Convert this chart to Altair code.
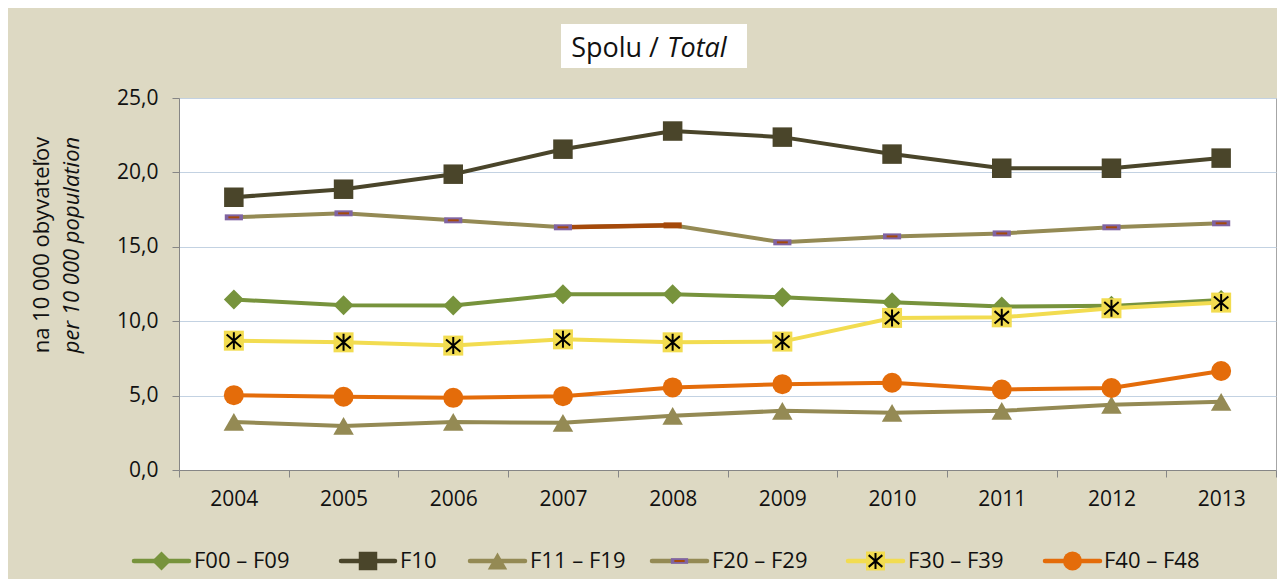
import altair as alt
import pandas as pd

# ---------------- data ----------------
YEARS = ["2004", "2005", "2006", "2007", "2008", "2009", "2010", "2011", "2012", "2013"]
SERIES = ["F00 – F09", "F10", "F11 – F19", "F20 – F29", "F30 – F39", "F40 – F48"]

F00_F09 = [11.46, 11.07, 11.05, 11.81, 11.81, 11.61, 11.28, 10.98, 11.03, 11.43]
F10 = [18.33, 18.87, 19.88, 21.56, 22.78, 22.37, 21.23, 20.28, 20.28, 20.96]
F11_F19 = [3.23, 2.96, 3.23, 3.17, 3.64, 3.98, 3.84, 3.98, 4.38, 4.58]
F20_F29 = [16.98, 17.25, 16.78, 16.31, 16.44, 15.30, 15.70, 15.90, 16.31, 16.58]
F30_F39 = [8.69, 8.58, 8.36, 8.78, 8.58, 8.63, 10.22, 10.26, 10.87, 11.25]
F40_F48 = [5.03, 4.92, 4.85, 4.96, 5.55, 5.77, 5.86, 5.41, 5.51, 6.65]

VALUES = [F00_F09, F10, F11_F19, F20_F29, F30_F39, F40_F48]
Y_TICKS = [0, 5, 10, 15, 20, 25]

# F20 – F29 has a differently coloured segment / marker in the original
F20_ACCENT_SEGMENT = ["2007", "2008"]
F20_ACCENT_MARKER = ["2008"]

TITLE_A = "Spolu /"
TITLE_B = "Total"
YTITLE_A = "na 10 000 obyvateľov"
YTITLE_B = "per 10 000 population"

# ---------------- styles ----------------
FONT = "Open Sans"
BG = "#DDD9C3"
AXIS_GRAY = "#868686"
GRID = "#C3D2E2"

RECT_PATH = "M-1,-0.33H1V0.33H-1Z"
DASH_PATH = "M-0.6,0H0.6"
AST_PATH = "M0,-0.85L0,0.85M-0.72,-0.62L0.72,0.62M-0.72,0.62L0.72,-0.62"

STYLES = {
    "F00 – F09": dict(line="#77933C", layers=[dict(shape="diamond", fill="#77933C", size=400)]),
    "F10": dict(line="#4A452A", layers=[dict(shape="square", fill="#4A452A", size=380)]),
    "F11 – F19": dict(line="#948A54", layers=[dict(shape="triangle-up", fill="#948A54", size=420)]),
    "F20 – F29": dict(line="#948A54", layers=[dict(shape=RECT_PATH, fill="#8064A2", size=330),
                                              dict(shape=DASH_PATH, stroke="#A5490A", size=330, sw=2)]),
    "F30 – F39": dict(line="#F2DC50", layers=[dict(shape="square", fill="#F2DC50", size=400),
                                              dict(shape=AST_PATH, stroke="#000000", size=400, sw=2)]),
    "F40 – F48": dict(line="#E46C0A", layers=[dict(shape="circle", fill="#E46C0A", size=400)]),
}
ACCENT = "#A5490A"

# legend layout (pixels relative to plot area)
LEG_Y = 463
LEG_LINE = [(-45, 10), (162, 216), (291, 346), (473, 528), (669, 724), (866, 921)]
LEG_TEXT = [15, 221, 351, 533, 729, 925]

rows = []
for s, vals in zip(SERIES, VALUES):
    for y, v in zip(YEARS, vals):
        rows.append({"series": s, "year": y, "value": v})
df = pd.DataFrame(rows)

x_enc = alt.X(
    "year:O",
    bandPosition=0.5,
    scale=alt.Scale(type="band", paddingInner=0, paddingOuter=0),
    axis=alt.Axis(
        title=None, labelAngle=0, tickBand="extent", grid=False,
        domainColor=AXIS_GRAY, tickColor=AXIS_GRAY, tickSize=7,
        labelFont=FONT, labelFontSize=21, labelColor="#111111", labelPadding=11,
    ),
)
y_enc = alt.Y(
    "value:Q",
    scale=alt.Scale(domain=[0, 25], nice=False),
    axis=alt.Axis(
        title=None, values=Y_TICKS, grid=True, gridColor=GRID,
        domainColor=AXIS_GRAY, tickColor=AXIS_GRAY, tickSize=7,
        labelFont=FONT, labelFontSize=21, labelColor="#111111", labelPadding=14,
        labelExpr="replace(format(datum.value, '.1f'), '.', ',')",
    ),
)

base = alt.Chart(df)
layers = []


def add_markers(src, st_layers, x, y, scale=1.0):
    out = []
    for m in st_layers:
        if "fill" in m:
            out.append(src.mark_point(shape=m["shape"], filled=True, color=m["fill"],
                                      size=m["size"] * scale, opacity=1).encode(x=x, y=y))
        else:
            out.append(src.mark_point(shape=m["shape"], filled=False, color=m["stroke"],
                                      strokeWidth=m["sw"], size=m["size"] * scale, opacity=1)
                       .encode(x=x, y=y))
    return out


for s in SERIES:
    st = STYLES[s]
    sub = base.transform_filter(alt.datum.series == s)
    layers.append(sub.mark_line(color=st["line"], strokeWidth=4).encode(x=x_enc, y=y_enc))
    if s == "F20 – F29":
        layers.append(
            sub.transform_filter(alt.FieldOneOfPredicate(field="year", oneOf=F20_ACCENT_SEGMENT))
            .mark_line(color=ACCENT, strokeWidth=4.5).encode(x=x_enc, y=y_enc)
        )
        normal = sub.transform_filter(~alt.FieldOneOfPredicate(field="year", oneOf=F20_ACCENT_MARKER))
        layers += add_markers(normal, st["layers"], x_enc, y_enc)
        layers.append(
            sub.transform_filter(alt.FieldOneOfPredicate(field="year", oneOf=F20_ACCENT_MARKER))
            .mark_point(shape=RECT_PATH, filled=True, color=ACCENT, size=330, opacity=1)
            .encode(x=x_enc, y=y_enc)
        )
    else:
        layers += add_markers(sub, st["layers"], x_enc, y_enc)

# ---------------- legend ----------------
for s, (x0, x1), tx in zip(SERIES, LEG_LINE, LEG_TEXT):
    st = STYLES[s]
    one = alt.Chart(pd.DataFrame({"series": [s]}))
    layers.append(one.mark_rule(color=st["line"], strokeWidth=4.5, strokeCap="round").encode(
        x=alt.value(x0), x2=alt.value(x1), y=alt.value(LEG_Y)))
    cx = (x0 + x1) / 2
    layers += add_markers(one, st["layers"], alt.value(cx), alt.value(LEG_Y), scale=0.9)
    layers.append(one.mark_text(font=FONT, fontSize=22, align="left", baseline="middle",
                                color="#111111").encode(
        x=alt.value(tx), y=alt.value(LEG_Y), text="series:N"))

# ---------------- title box & axis title ----------------
tdf = pd.DataFrame({"a": [TITLE_A], "b": [TITLE_B], "ya": [YTITLE_A], "yb": [YTITLE_B]})
tchart = alt.Chart(tdf)
layers.append(tchart.mark_rect(color="white").encode(
    x=alt.value(382), x2=alt.value(568), y=alt.value(-74), y2=alt.value(-30)))
layers.append(tchart.mark_text(font=FONT, fontSize=27, align="right", baseline="alphabetic",
                               color="#111111").encode(
    x=alt.value(480), y=alt.value(-41), text="a:N"))
layers.append(tchart.mark_text(font=FONT, fontSize=27, fontStyle="italic", align="left",
                               baseline="alphabetic", color="#111111").encode(
    x=alt.value(488), y=alt.value(-41), text="b:N"))
layers.append(tchart.mark_text(font=FONT, fontSize=22, angle=270, align="center",
                               baseline="middle", color="#111111").encode(
    x=alt.value(-137), y=alt.value(147), text="ya:N"))
layers.append(tchart.mark_text(font=FONT, fontSize=22, angle=270, fontStyle="italic",
                               align="center", baseline="middle", color="#111111").encode(
    x=alt.value(-107), y=alt.value(147), text="yb:N"))

chart = alt.layer(*layers).properties(
    width=1097, height=372,
    autosize=alt.AutoSizeParams(type="none"),
    padding={"left": 171, "top": 90, "right": 1, "bottom": 109},
).configure(background=BG).configure_view(fill="white", stroke="#A6A6A6", strokeWidth=1)

chart.save("out.html", embed_options={"renderer": "svg", "actions": False})
